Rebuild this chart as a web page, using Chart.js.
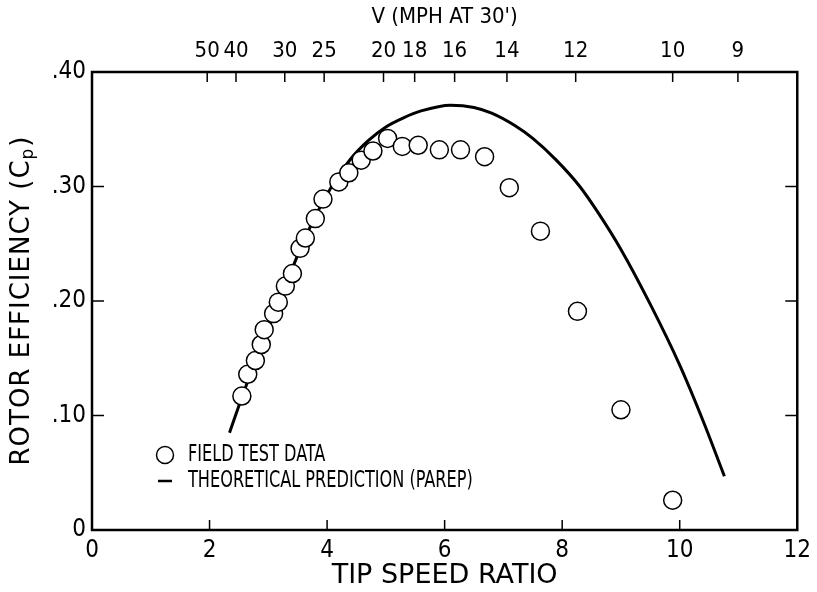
<!DOCTYPE html>
<html>
<head>
<meta charset="utf-8">
<script src="https://cdn.jsdelivr.net/npm/chart.js@4.4.0/dist/chart.umd.min.js"></script>
<style>
  html, body { margin: 0; padding: 0; background: #fff; }
  #wrap { width: 817px; height: 592px; }
</style>
</head>
<body>
<div id="wrap"><canvas id="cpChart"></canvas></div>
<script>
// field test data (tip speed ratio, Cp)
const testTSR = [2.55, 2.65, 2.78, 2.88, 2.93, 3.09, 3.17, 3.29, 3.41, 3.54, 3.63, 3.80, 3.93, 4.20,
                 4.37, 4.58, 4.78, 5.03, 5.28, 5.55, 5.91, 6.27, 6.68, 7.10, 7.63, 8.26, 9.00, 9.88];
const testCp = [0.117, 0.136, 0.148, 0.162, 0.175, 0.189, 0.199, 0.213, 0.224, 0.246, 0.255, 0.272, 0.289, 0.304,
                0.312, 0.323, 0.331, 0.342, 0.335, 0.336, 0.332, 0.332, 0.326, 0.299, 0.261, 0.191, 0.105, 0.026];

// theoretical prediction (PAREP)
const theoryTSR = [2.34, 2.6, 2.9, 3.2, 3.5, 3.8, 4.1, 4.4, 4.7, 5.0, 5.3, 5.6, 6.1, 6.5, 6.8,
                   7.2, 7.5, 7.9, 8.3, 8.6, 9.0, 9.5, 10.0, 10.4, 10.76];
const theoryCp = [0.085, 0.123, 0.163, 0.201, 0.240, 0.274, 0.302, 0.324, 0.340, 0.352, 0.360, 0.366, 0.371, 0.369, 0.364,
                  0.353, 0.342, 0.323, 0.300, 0.278, 0.245, 0.197, 0.144, 0.095, 0.047];

// top axis: wind speed V (mph at 30') placed at tip speed ratio
const topTickV = [50, 40, 30, 25, 20, 18, 16, 14, 12, 10, 9];
const topTickTSR = [1.96, 2.45, 3.28, 3.95, 4.96, 5.49, 6.17, 7.06, 8.23, 9.88, 10.99];

const tsrTicks = [0, 2, 4, 6, 8, 10, 12];
const cpTicks = [0, 0.1, 0.2, 0.3, 0.4];
const cpTickLabels = ['0', '.10', '.20', '.30', '.40'];

const FONT = "'DejaVu Sans Condensed', sans-serif";
const WIDE = "'DejaVu Sans', sans-serif";

// frame, inward tick marks, y title and legend
const framePlugin = {
    id: 'frame',
    afterDatasetsDraw(chart) {
        const ctx = chart.ctx;
        const a = chart.chartArea;
        const x = chart.scales.x, y = chart.scales.y, xt = chart.scales.xTop;
        ctx.save();
        ctx.strokeStyle = '#000';
        ctx.lineWidth = 2.5;
        ctx.strokeRect(a.left, a.top, a.right - a.left, a.bottom - a.top);
        ctx.lineWidth = 1.5;
        ctx.beginPath();
        tsrTicks.slice(1, -1).forEach(v => {
            const px = x.getPixelForValue(v);
            ctx.moveTo(px, a.bottom); ctx.lineTo(px, a.bottom - 10);
        });
        topTickTSR.forEach(v => {
            const px = xt.getPixelForValue(v);
            ctx.moveTo(px, a.top); ctx.lineTo(px, a.top + 10);
        });
        cpTicks.slice(1, -1).forEach(v => {
            const py = y.getPixelForValue(v);
            ctx.moveTo(a.left, py); ctx.lineTo(a.left + 12, py);
            ctx.moveTo(a.right, py); ctx.lineTo(a.right - 12, py);
        });
        ctx.stroke();
        ctx.restore();
    },
    afterDraw(chart) {
        const ctx = chart.ctx;
        const a = chart.chartArea;
        ctx.save();
        ctx.fillStyle = '#000';

        // y axis title with subscript
        ctx.translate(22, (a.top + a.bottom) / 2);
        ctx.rotate(-Math.PI / 2);
        ctx.textBaseline = 'middle';
        ctx.textAlign = 'left';
        ctx.letterSpacing = '1px';
        const main = 'ROTOR EFFICIENCY (C';
        ctx.font = '26px ' + WIDE;
        const wMain = ctx.measureText(main).width;
        ctx.font = '17px ' + WIDE;
        const wSub = ctx.measureText('p').width;
        ctx.font = '26px ' + WIDE;
        const wEnd = ctx.measureText(')').width;
        const sx = -(wMain + wSub + wEnd) / 2;
        ctx.fillText(main, sx, 0);
        ctx.font = '17px ' + WIDE;
        ctx.fillText('p', sx + wMain, 7);
        ctx.font = '26px ' + WIDE;
        ctx.fillText(')', sx + wMain + wSub + 1, 0);
        ctx.restore();

        // legend
        ctx.save();
        ctx.fillStyle = '#000';
        ctx.strokeStyle = '#000';
        ctx.lineWidth = 1.5;
        ctx.beginPath();
        ctx.arc(165, 455, 8.5, 0, Math.PI * 2);
        ctx.stroke();
        ctx.lineWidth = 2.5;
        ctx.beginPath();
        ctx.moveTo(158, 481); ctx.lineTo(172, 481);
        ctx.stroke();
        ctx.font = '23px ' + FONT;
        ctx.textBaseline = 'middle';
        ctx.textAlign = 'left';
        ctx.translate(188, 0);
        ctx.scale(0.78, 1);
        ctx.fillText(chart.data.datasets[0].label, 0, 455);
        ctx.fillText(chart.data.datasets[1].label, 0, 481);
        ctx.restore();
    }
};

new Chart(document.getElementById('cpChart'), {
    type: 'scatter',
    data: {
        datasets: [{
            label: 'FIELD TEST DATA',
            data: testTSR.map((t, i) => ({ x: t, y: testCp[i] })),
            pointStyle: 'circle',
            pointRadius: 9,
            pointBorderWidth: 1.5,
            pointBackgroundColor: '#fff',
            pointBorderColor: '#000',
            showLine: false
        }, {
            label: 'THEORETICAL PREDICTION (PAREP)',
            data: theoryTSR.map((t, i) => ({ x: t, y: theoryCp[i] })),
            showLine: true,
            borderColor: '#000',
            borderWidth: 3,
            pointRadius: 0,
            cubicInterpolationMode: 'monotone'
        }]
    },
    options: {
        responsive: true,
        maintainAspectRatio: false,
        animation: false,
        layout: { padding: { right: 17 } },
        plugins: {
            legend: { display: false },
            tooltip: { enabled: false }
        },
        scales: {
            x: {
                type: 'linear', position: 'bottom', min: 0, max: 12,
                afterBuildTicks: s => { s.ticks = tsrTicks.map(v => ({ value: v })); },
                afterFit: s => { s.height = 62; },
                grid: { display: false, drawTicks: false },
                border: { display: false },
                ticks: { color: '#000', padding: 6, font: { family: FONT, size: 24 } },
                title: { display: true, text: 'TIP SPEED RATIO', color: '#000',
                         padding: { top: 0, bottom: 0 }, font: { family: WIDE, size: 27 } }
            },
            xTop: {
                type: 'linear', position: 'top', min: 0, max: 12,
                afterBuildTicks: s => { s.ticks = topTickTSR.map(v => ({ value: v })); },
                afterFit: s => { s.height = 72; },
                grid: { display: false, drawTicks: false },
                border: { display: false },
                ticks: { color: '#000', padding: 8, autoSkip: false, maxRotation: 0,
                         font: { family: FONT, size: 22 },
                         callback: (v, i) => String(topTickV[i]) },
                title: { display: true, text: "V (MPH AT 30')", color: '#000',
                         padding: { top: 4, bottom: 0 }, font: { family: FONT, size: 22 } }
            },
            y: {
                type: 'linear', position: 'left', min: 0, max: 0.4,
                afterBuildTicks: s => { s.ticks = cpTicks.map(v => ({ value: v })); },
                afterFit: s => { s.width = 92; },
                grid: { display: false, drawTicks: false },
                border: { display: false },
                ticks: { color: '#000', padding: 6, font: { family: FONT, size: 24 },
                         callback: (v, i) => cpTickLabels[i] }
            }
        }
    },
    plugins: [framePlugin]
});
</script>
</body>
</html>
